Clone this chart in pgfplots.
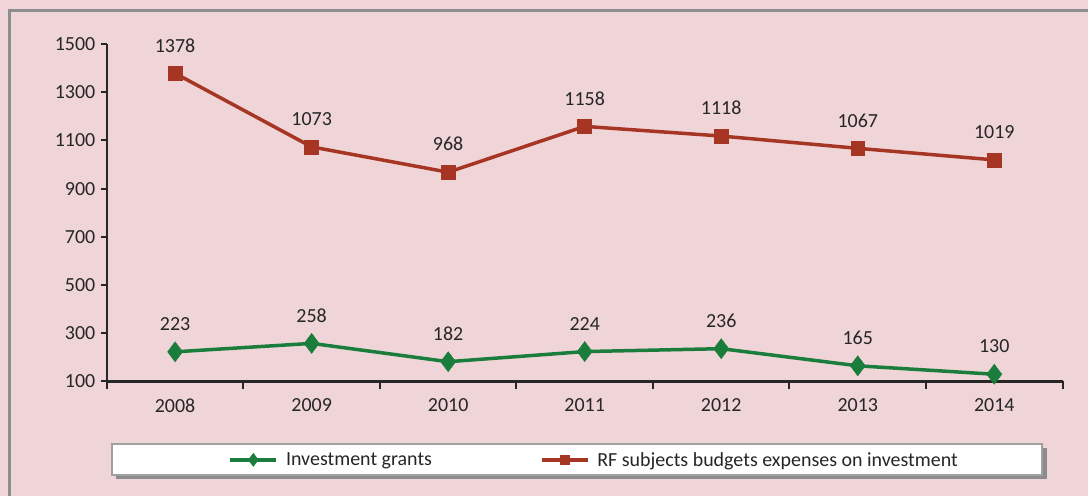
\documentclass[border=0pt]{standalone}
\usepackage{pgfplots}
\pgfplotsset{compat=1.18}
\usepackage{fontspec}
\setmainfont{Carlito}
\definecolor{bg}{HTML}{EFD5D7}
\definecolor{framegray}{HTML}{8E8E8E}
\definecolor{shadowgray}{HTML}{8C8C8C}
\definecolor{boxgray}{HTML}{A0A0A0}
\definecolor{redline}{HTML}{A63523}
\definecolor{greenline}{HTML}{1A7D3C}
\definecolor{txt}{HTML}{262626}
\newcommand{\chartfont}{\fontsize{20}{24}\selectfont}
\begin{document}
\begin{tikzpicture}[x=1pt,y=1pt]
\fill[bg] (0,0) rectangle (1089,497);
\draw[framegray, line width=3pt] (9.5,0) -- (9.5,486) -- (1089,486);
\fill[shadowgray] (116,17) rectangle (1048,48);
\filldraw[fill=white, draw=boxgray, line width=2pt] (112,21) rectangle (1043,52);
\begin{axis}[
  at={(107pt,115pt)}, anchor=south west,
  scale only axis, width=957pt, height=338pt,
  xmin=-0.5, xmax=6.5, ymin=100, ymax=1500,
  axis lines*=left,
  axis line style={line width=2.2pt, black!85},
  xtick={0,1,2,3,4,5,6},
  xticklabels={2008,2009,2010,2011,2012,2013,2014},
  every major x tick/.append style={draw=none},
  minor xtick={-0.5,0.5,1.5,2.5,3.5,4.5,5.5,6.5},
  ytick={100,300,500,700,900,1100,1300,1500},
  tick align=outside,
  major tick length=6pt, minor tick length=8pt,
  tick style={line width=2pt, black!85},
  every tick label/.append style={font=\chartfont, text=txt},
  xticklabel style={yshift=-8pt},
  yticklabel style={xshift=-2pt},
  /pgf/number format/assume math mode=true,
  /pgf/number format/1000 sep={},
  clip=false,
  nodes near coords,
  every node near coord/.append style={font=\chartfont, text=txt, anchor=center, yshift=28pt},
  legend columns=2,
  legend style={draw=none, fill=none, at={(0.510,-0.2322)}, anchor=center,
    font=\chartfont, text=txt,
    /tikz/every odd column/.append style={column sep=6pt},
    /tikz/every even column/.append style={column sep=106pt}},
  legend image code/.code={%
    \draw[mark repeat=2, mark phase=2, #1, every mark/.append style={scale=0.65}]
      plot coordinates {(0pt,0pt) (23pt,0pt) (46pt,0pt)};
  },
]
\addplot[greenline, line width=3.5pt, mark=diamond*, mark size=10pt,
  mark options={line width=0.5pt, fill=greenline}]
  coordinates {(0,223) (1,258) (2,182) (3,224) (4,236) (5,165) (6,130)};
\addlegendentry{Investment grants}
\addplot[redline, line width=3.5pt, mark=square*, mark size=7pt,
  mark options={line width=0.5pt, fill=redline}]
  coordinates {(0,1378) (1,1073) (2,968) (3,1158) (4,1118) (5,1067) (6,1019)};
\addlegendentry{RF subjects budgets expenses on investment}
\end{axis}
\end{tikzpicture}
\end{document}
